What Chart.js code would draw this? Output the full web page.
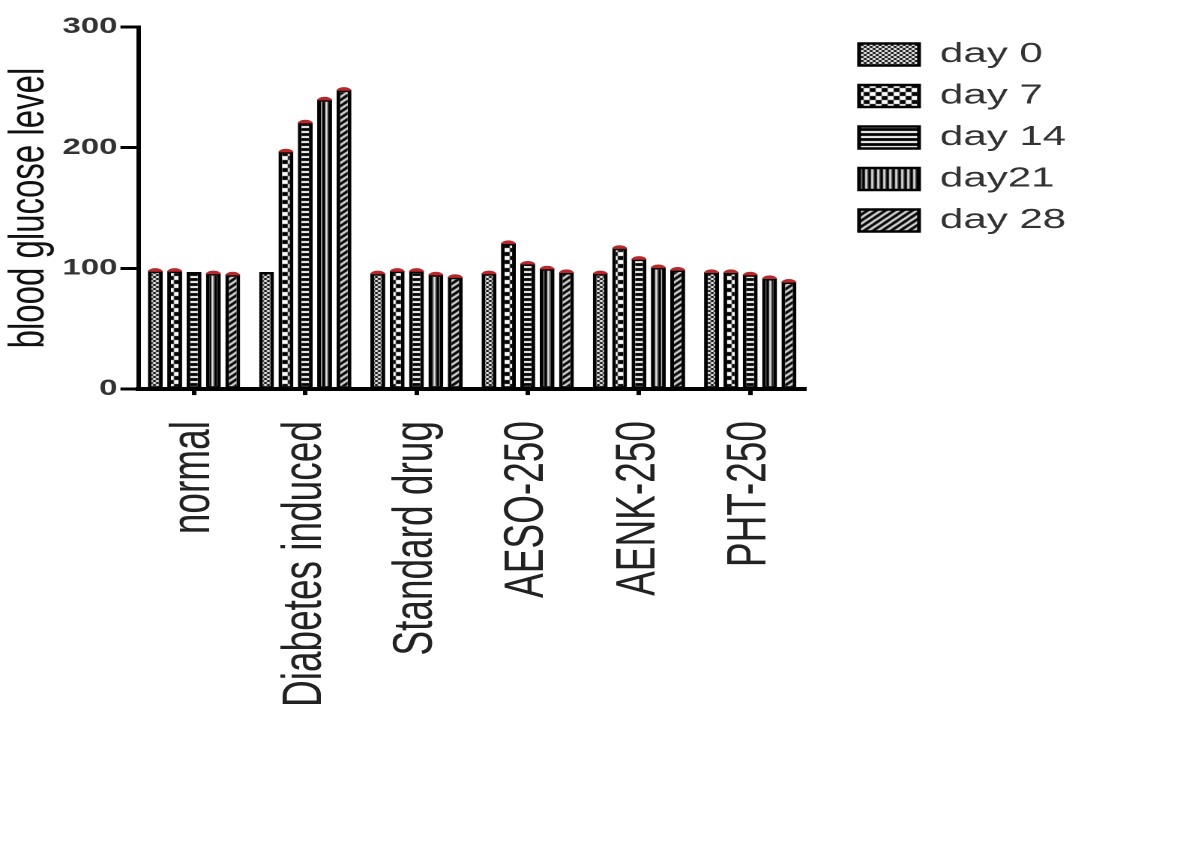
<!DOCTYPE html>
<html>
<head>
<meta charset="utf-8">
<title>blood glucose level</title>
<script src="https://cdn.jsdelivr.net/npm/chart.js@4.4.1/dist/chart.umd.min.js"></script>
<style>
  html, body { margin: 0; padding: 0; background: #fff; overflow: hidden; }
  /* the source figure is stretched sideways, so draw narrow and widen it */
  #wrap { position: absolute; left: 0; top: 0; width: 793px; height: 849px;
          transform: scaleX(1.4994); transform-origin: 0 0; }
</style>
</head>
<body>
<div id="wrap"><canvas id="glucose-chart"></canvas></div>
<script>
// Data
const groups = ['normal', 'Diabetes induced', 'Standard drug', 'AESO-250', 'AENK-250', 'PHT-250'];
const seriesNames = ['day 0', 'day 7', 'day 14', 'day21', 'day 28'];
const day0 = [98, 97, 96, 96, 96, 97];
const day7 = [98, 197, 98, 121, 117, 97];
const day14 = [97, 221, 98, 104, 108, 95];
const day21 = [96, 240, 95, 100, 101, 92];
const day28 = [95, 248, 93, 97, 99, 89];
// small error caps (red) on top of the bars
const err0 = [3, 0, 3, 3, 3, 3];
const err7 = [3, 3, 3, 3, 3, 3];
const err14 = [0, 3, 3, 3, 3, 3];
const err21 = [3, 3, 3, 3, 3, 3];
const err28 = [3, 3, 3, 3, 3, 3];
const yTicks = [0, 100, 200, 300];

const FONT = "'Liberation Sans', Arial, sans-serif";

// Build a black/white fill pattern
function makePattern(w, h, paint) {
  const c = document.createElement('canvas');
  c.width = w;
  c.height = h;
  const g = c.getContext('2d');
  g.fillStyle = '#000';
  g.fillRect(0, 0, w, h);
  g.fillStyle = '#fff';
  g.strokeStyle = '#fff';
  paint(g);
  return g.createPattern(c, 'repeat');
}

const patterns = [
  // day 0: fine lattice
  makePattern(4, 4, g => {
    g.fillRect(0, 0, 2, 2);
    g.fillRect(2, 2, 2, 2);
  }),
  // day 7: coarse checkerboard
  makePattern(8, 8, g => {
    g.fillRect(0, 0, 4, 4);
    g.fillRect(4, 4, 4, 4);
  }),
  // day 14: horizontal white lines
  makePattern(4, 5, g => {
    g.fillRect(0, 1, 4, 2);
  }),
  // day21: vertical white lines
  makePattern(4, 4, g => {
    g.fillRect(1, 0, 1.5, 4);
  }),
  // day 28: diagonal white lines
  makePattern(6, 6, g => {
    g.lineWidth = 1.6;
    g.beginPath();
    g.moveTo(-1, 7);
    g.lineTo(7, -1);
    g.moveTo(-1, 1);
    g.lineTo(1, -1);
    g.moveTo(5, 7);
    g.lineTo(7, 5);
    g.stroke();
  }),
];

const allValues = [day0, day7, day14, day21, day28];
const allErrors = [err0, err7, err14, err21, err28];

// Red caps drawn from the bar elements and the y scale
const capPlugin = {
  id: 'caps',
  afterDatasetsDraw(chart) {
    const ctx = chart.ctx;
    const yScale = chart.scales.y;
    chart.data.datasets.forEach((ds, i) => {
      const meta = chart.getDatasetMeta(i);
      meta.data.forEach((bar, j) => {
        const e = allErrors[i][j];
        if (!e) return;
        const top = yScale.getPixelForValue(ds.data[j] + e);
        const h = Math.max(bar.y - top, 1);
        ctx.save();
        ctx.fillStyle = '#b8282c';
        ctx.beginPath();
        ctx.ellipse(bar.x, bar.y + 1, bar.width / 2, h, 0, Math.PI, 2 * Math.PI);
        ctx.fill();
        ctx.restore();
      });
    });
  },
};

// Push the legend a little further right of the plot
const legendShift = {
  id: 'legendShift',
  afterLayout(chart) {
    chart.legend.left += 22;
    chart.legend.right += 22;
  },
};

new Chart(document.getElementById('glucose-chart'), {
  type: 'bar',
  data: {
    labels: groups,
    datasets: allValues.map((vals, i) => ({
      label: seriesNames[i],
      data: vals,
      backgroundColor: patterns[i],
      borderColor: '#000',
      borderWidth: 2.5,
      borderSkipped: false,
      categoryPercentage: 0.87,
      barPercentage: 0.77,
    })),
  },
  options: {
    responsive: true,
    maintainAspectRatio: false,
    animation: false,
    devicePixelRatio: 2,
    layout: {
      padding: { top: 27, right: 94, bottom: 116, left: 0 },
    },
    plugins: {
      legend: {
        position: 'right',
        align: 'start',
        labels: {
          boxWidth: 40,
          boxHeight: 22,
          padding: 13.5,
          color: '#333',
          font: { family: FONT, size: 28 },
        },
      },
      tooltip: { enabled: false },
    },
    scales: {
      x: {
        border: { display: true, color: '#000', width: 4 },
        grid: {
          display: true,
          drawOnChartArea: false,
          offset: false,
          tickLength: 6,
          tickWidth: 3,
          tickColor: '#000',
        },
        ticks: {
          autoSkip: false,
          maxRotation: 90,
          minRotation: 90,
          padding: 26,
          color: '#222',
          font: { family: FONT, size: 37 },
        },
      },
      y: {
        min: 0,
        max: 300,
        afterBuildTicks: axis => {
          axis.ticks = yTicks.map(v => ({ value: v }));
        },
        border: { display: true, color: '#000', width: 3 },
        grid: {
          display: true,
          drawOnChartArea: false,
          tickLength: 12,
          tickWidth: 3,
          tickColor: '#000',
        },
        ticks: {
          padding: 2,
          color: '#333',
          font: { family: FONT, size: 22, weight: 'bold' },
        },
        title: {
          display: true,
          text: 'blood glucose level',
          color: '#111',
          padding: 0,
          font: { family: FONT, size: 33 },
        },
      },
    },
  },
  plugins: [capPlugin, legendShift],
});
</script>
</body>
</html>
